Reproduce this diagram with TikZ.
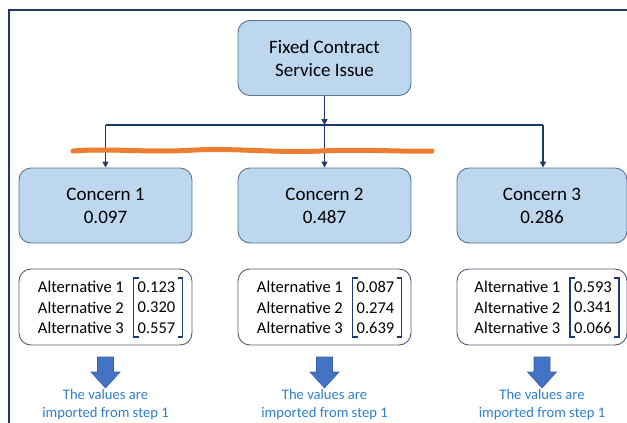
\documentclass[tikz,border=0pt]{standalone}
\usepackage{fontspec}
\setmainfont{Carlito}
\usetikzlibrary{arrows.meta}

\definecolor{boxfill}{RGB}{189,215,238}
\definecolor{boxline}{RGB}{92,114,146}
\definecolor{altline}{RGB}{80,92,112}
\definecolor{navy}{RGB}{31,56,100}
\definecolor{bracketblue}{RGB}{31,56,120}
\definecolor{orangeline}{RGB}{237,125,49}
\definecolor{arrowblue}{RGB}{68,114,196}
\definecolor{arrowedge}{RGB}{55,95,170}
\definecolor{notetext}{RGB}{46,128,200}

\begin{document}
\begin{tikzpicture}[x=1pt,y=-1pt,
  criterion/.style={draw=boxline, line width=0.9pt, fill=boxfill,
    rounded corners=12pt, minimum width=173pt, minimum height=75pt,
    align=center, inner sep=0pt, font=\fontsize{19}{23}\selectfont},
  altbox/.style={draw=altline, line width=0.9pt, fill=white,
    rounded corners=12pt, minimum height=76pt, inner sep=0pt},
  altnames/.style={align=right, inner sep=0pt, anchor=east,
    font=\fontsize{16.5}{20.5}\selectfont},
  altvalues/.style={align=center, inner sep=0pt,
    font=\fontsize{16.5}{20.5}\selectfont},
  bracket/.style={draw=bracketblue, line width=1.6pt},
  link/.style={draw=navy, line width=1.5pt, -{Triangle[length=6pt,width=6pt]}},
  bar/.style={draw=navy, line width=1.5pt},
  frame/.style={draw=navy, line width=2.4pt},
  downarrow/.style={fill=arrowblue, draw=arrowedge, line width=0.6pt},
  note/.style={align=center, inner sep=0pt, text=notetext,
    font=\fontsize{14.6}{18}\selectfont}
]
\useasboundingbox (0,0) rectangle (627,423);

% outer frame
\draw[frame] (9,424) -- (9,10) -- (628,10);

% goal and criteria
\node[criterion] (goal) at (324.5,58) {Fixed Contract\\Service Issue};
\node[criterion] (c1) at (105.5,205.5) {Concern 1\\0.097};
\node[criterion] (c2) at (324.5,205.5) {Concern 2\\0.487};
\node[criterion, minimum width=170pt] (c3) at (542,205.5) {Concern 3\\0.286};

% branching connectors
\coordinate (hub) at (324.5,125);
\coordinate (leftend) at (105.5,125);
\coordinate (rightend) at (543,125);
\draw[bar] (leftend) -- (rightend);
\draw[link] (goal.south) -- (hub);
\draw[link] (hub) -- (c2.north);
\draw[link] (leftend) -- (c1.north);
\draw[link] (rightend) -- (rightend |- c3.north);

% hand-drawn orange stroke across the branches
\draw[orangeline, line width=5pt, line cap=round]
  (73,151) .. controls (110,148) and (150,153) .. (195,150)
  .. controls (235,148) and (275,153) .. (320,151)
  .. controls (365,149) and (405,152) .. (432,151);

% alternative weights under each concern
\foreach \i/\cx/\w/\va/\vb/\vc in {1/105.5/173/0.123/0.320/0.557,
                                   2/324.5/173/0.087/0.274/0.639,
                                   3/542/170/0.593/0.341/0.066}{
  \node[altbox, minimum width=\w pt] (a\i) at (\cx,307) {};
  \node[altnames] (n\i) at (\cx+18.5,307.5) {Alternative 1\\Alternative 2\\Alternative 3};
  \node[altvalues] (v\i) at (\cx+51,307.5) {\va\\\vb\\\vc};
  \begin{scope}[shift={(\cx,0)}]
    \draw[bracket] (33,278) -- (28,278) -- (28,337) -- (33,337);
    \draw[bracket] (72,278) -- (77,278) -- (77,337) -- (72,337);
    \draw[downarrow] (-8,357) -- (8,357) -- (8,372) -- (14.5,372) -- (0,388)
      -- (-14.5,372) -- (-8,372) -- cycle;
  \end{scope}
  \node[note] (t\i) at (\cx,405) {The values are\\imported from step 1};
}
\end{tikzpicture}
\end{document}
